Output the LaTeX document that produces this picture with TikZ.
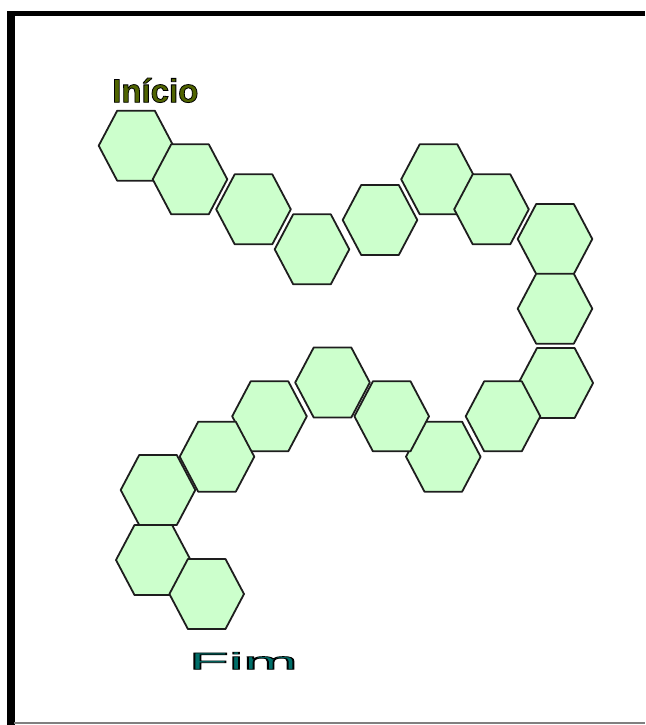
\documentclass[tikz,border=0pt]{standalone}
\usepackage{fontspec}
\setmainfont{Liberation Sans}
\definecolor{hexfill}{RGB}{204,255,204}
\definecolor{hexline}{RGB}{30,30,30}
\definecolor{startcol}{RGB}{80,100,0}
\definecolor{endcol}{RGB}{0,110,105}
% outlined lettering: fill in the current colour, stroke in black
\newcommand\outlined[2]{\special{pdf:literal direct 0 0 0 RG 2 Tr #1 w}#2\special{pdf:literal direct 0 Tr}}
\begin{document}
\begin{tikzpicture}[x=1pt,y=-1pt,
  cell/.style={fill=hexfill, draw=hexline, line width=1.8pt, line join=round},
  label/.style={inner sep=0pt, anchor=base west}]
\useasboundingbox (0,0) rectangle (645,725);
% frame
\fill[black] (7,11) rectangle (645,16);
\fill[black] (7,11) rectangle (14.5,725);
\draw[gray, line width=1.5pt] (14,723) -- (645,723);
% chain of hexagonal cells
\foreach \n/\cx/\cy in {1/136/145.7, 2/190/179.3, 3/253.5/209.3, 4/312/249.3,
  5/380/220, 6/438.5/179.3, 7/491.5/209.3, 8/555/239, 9/555/308.7,
  10/555.8/383, 11/503/416.3, 12/443.3/456.7, 13/391.7/416.3, 14/332.5/382.5,
  15/269.5/416.3, 16/217/456.7, 17/158/490, 18/153.3/560, 19/206.7/594}{
  \coordinate (h\n) at (\cx,\cy);
  \draw[cell] (h\n) ++(-37.3,0) -- ++(18.5,-35) -- ++(37.6,0) -- ++(18.5,35)
    -- ++(-18.5,35) -- ++(-37.6,0) -- cycle;
}
% labels
\node[label, text=startcol, font=\fontsize{33}{34}\selectfont\bfseries] (start) at (112,102.3) {\outlined{0.8}{Início}};
\node[label, text=endcol, font=\fontsize{23.7}{24}\selectfont, xscale=2.75, transform shape] (finish) at (188.5,669.3) {\outlined{0.7}{Fim}};
\end{tikzpicture}
\end{document}
